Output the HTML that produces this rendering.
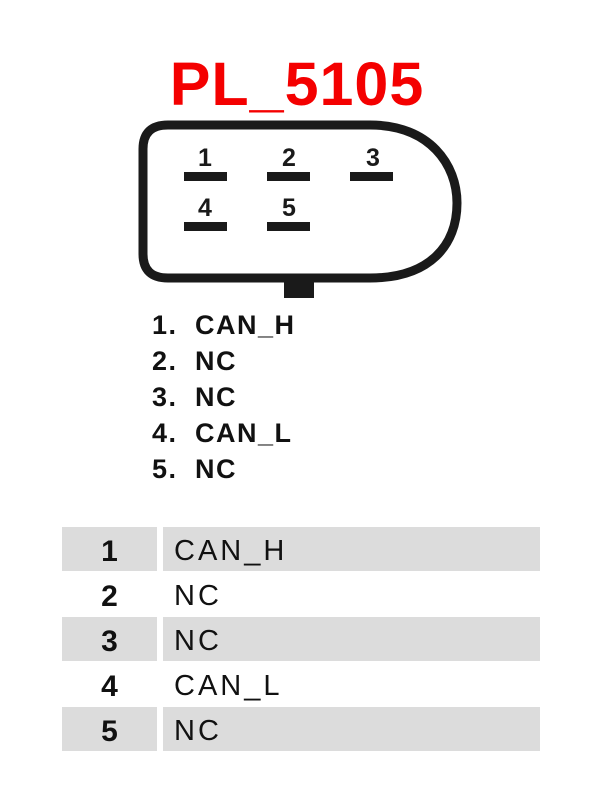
<!DOCTYPE html>
<html><head><style>
body{margin:0;width:600px;height:800px;background:#fff;position:relative;font-family:"Liberation Sans",sans-serif;overflow:hidden}
.t{position:absolute;white-space:nowrap}
.g{position:absolute;background:#dcdcdc}
.l{position:absolute;font-size:27px;font-weight:bold;color:#111;letter-spacing:1.5px;white-space:nowrap}
</style></head><body>
<div class="t" style="left:0;width:594px;text-align:center;top:49px;font-size:61px;font-weight:bold;color:#f40000;letter-spacing:1px">PL_5105</div>
<svg style="position:absolute;left:0;top:0" width="600" height="310">
<path d="M168,125 H370 C430,125 457,165 457,203 C457,245 430,278 370,278 H168 Q143,278 143,254 V149 Q143,125 168,125 Z" fill="none" stroke="#1a1a1a" stroke-width="9"/>
<rect x="284" y="280" width="30" height="18" fill="#1a1a1a"/>
<g fill="#1a1a1a">
<rect x="184" y="172" width="43" height="9"/><rect x="267" y="172" width="43" height="9"/><rect x="350" y="172" width="43" height="9"/>
<rect x="184" y="222" width="43" height="9"/><rect x="267" y="222" width="43" height="9"/>
</g>
<g font-family="Liberation Sans" font-weight="bold" font-size="25" fill="#1a1a1a" text-anchor="middle">
<text x="205" y="166">1</text><text x="289" y="166">2</text><text x="373" y="166">3</text>
<text x="205" y="216">4</text><text x="289" y="216">5</text>
</g>
</svg>
<div class="l" style="left:152px;top:307px;line-height:36px">1.<br>2.<br>3.<br>4.<br>5.</div>
<div class="l" style="left:195px;top:307px;line-height:36px">CAN_H<br>NC<br>NC<br>CAN_L<br>NC</div>
<div class="g" style="left:62px;top:527px;width:95px;height:44px"></div><div class="g" style="left:163px;top:527px;width:377px;height:44px"></div>
<div class="g" style="left:62px;top:617px;width:95px;height:44px"></div><div class="g" style="left:163px;top:617px;width:377px;height:44px"></div>
<div class="g" style="left:62px;top:707px;width:95px;height:44px"></div><div class="g" style="left:163px;top:707px;width:377px;height:44px"></div>
<div class="t" style="left:62px;width:95px;text-align:center;top:529px;font-size:30px;font-weight:bold;line-height:45px;color:#111">1<br>2<br>3<br>4<br>5</div>
<div class="t" style="left:174px;top:529px;font-size:29px;line-height:45px;color:#111;letter-spacing:3px">CAN_H<br>NC<br>NC<br>CAN_L<br>NC</div>
</body></html>
